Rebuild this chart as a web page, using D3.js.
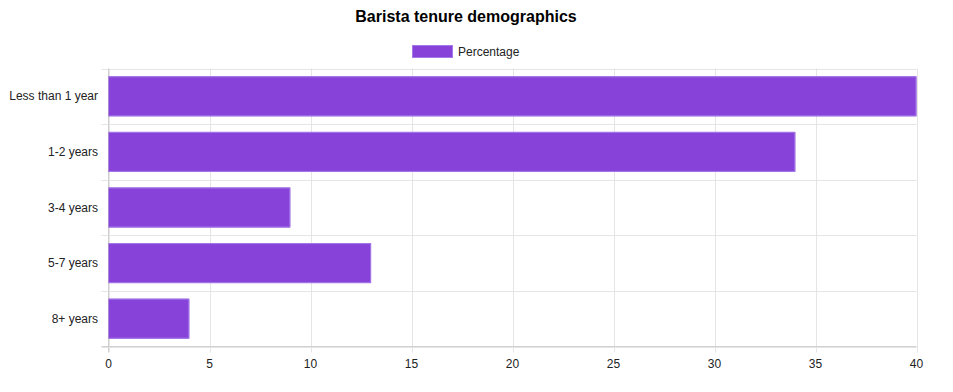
<!DOCTYPE html>
<html><head><meta charset="utf-8">
<script src="https://cdn.jsdelivr.net/npm/d3@7"></script>
<style>body{margin:0;background:#fff}svg{display:block;font-family:"Liberation Sans",Arial,sans-serif}</style>
</head><body>
<svg id="c" width="953" height="392"></svg>
<script>
const title = "Barista tenure demographics";
const seriesName = "Percentage";
const categories = ["Less than 1 year", "1-2 years", "3-4 years", "5-7 years", "8+ years"];
const values = [40, 34, 9, 13, 4];
const xTicks = [0, 5, 10, 15, 20, 25, 30, 35, 40];

const svg = d3.select("#c");
const m = {left:108.5, right:916.5, top:68.5, bottom:346.5};
const x = d3.scaleLinear().domain([0, 40]).range([m.left, m.right]);
const y = d3.scaleBand().domain(categories).range([m.top, m.bottom]);
const inner = 0.8*0.9;

// grid
svg.append("g").selectAll("line.v").data(xTicks).join("line")
  .attr("x1", d=>Math.round(x(d))+0.5).attr("x2", d=>Math.round(x(d))+0.5)
  .attr("y1", m.top).attr("y2", m.bottom+6)
  .attr("stroke", "#e5e5e5").attr("stroke-width", 1);
const bounds = d3.range(categories.length+1).map(i => m.top + i*y.step());
svg.append("g").selectAll("line.h").data(bounds).join("line")
  .attr("x1", m.left-7).attr("x2", m.right)
  .attr("y1", d=>Math.round(d)+0.5).attr("y2", d=>Math.round(d)+0.5)
  .attr("stroke", "#e5e5e5").attr("stroke-width", 1);
// axis lines
svg.append("line").attr("x1", m.left).attr("x2", m.left).attr("y1", m.top).attr("y2", m.bottom+6).attr("stroke","#d0d0d0");
svg.append("line").attr("x1", m.left-7).attr("x2", m.right).attr("y1", m.bottom).attr("y2", m.bottom).attr("stroke","#d0d0d0");

// bars
const bh = y.step()*inner;
const g = svg.append("g");
categories.forEach((c,i) => {
  const y0 = y(c) + (y.step()-bh)/2;
  const x0 = x(0), x1 = x(values[i]);
  g.append("rect").attr("x", x0).attr("y", y0).attr("width", x1-x0).attr("height", bh)
    .attr("fill", "#8642d9");
  g.append("path")
    .attr("d", `M${x0},${y0+0.5} H${x1-0.5} V${y0+bh-0.5} H${x0}`)
    .attr("fill","none").attr("stroke","#a57ae8").attr("stroke-width",1);
});

// tick labels
svg.append("g").selectAll("text").data(xTicks).join("text")
  .attr("x", d=>x(d)).attr("y", 368).attr("text-anchor","middle")
  .attr("font-size", 12).attr("fill","#222").text(d=>d);
svg.append("g").selectAll("text").data(categories).join("text")
  .attr("x", 98).attr("y", d=>y(d)+y.step()/2+4).attr("text-anchor","end")
  .attr("font-size", 12).attr("fill","#222").text(d=>d);

// title
svg.append("text").attr("x", 466).attr("y", 22).attr("text-anchor","middle")
  .attr("font-size", 16).attr("font-weight","bold").attr("fill","#000").text(title);
// legend
svg.append("rect").attr("x", 412.5).attr("y", 45.5).attr("width", 40).attr("height", 12)
  .attr("fill","#8642d9").attr("stroke","#a57ae8");
svg.append("text").attr("x", 458).attr("y", 56).attr("font-size", 12).attr("fill","#222").text(seriesName);
</script>
</body></html>
